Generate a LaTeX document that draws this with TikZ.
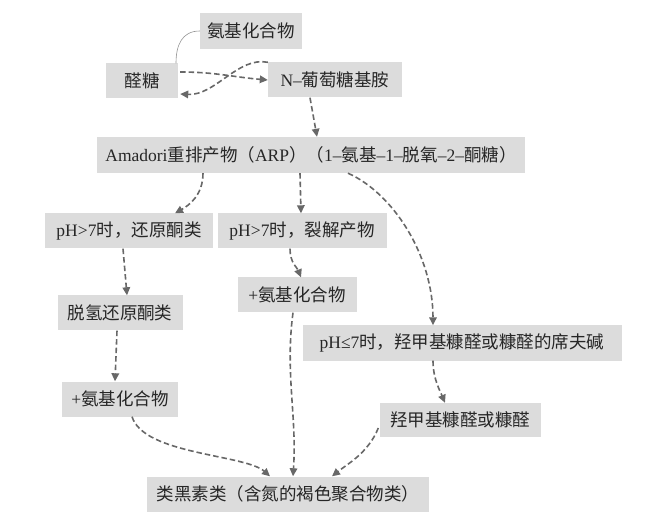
\documentclass[tikz,border=0pt]{standalone}
\usepackage{fontspec}
\setmainfont{Noto Sans CJK SC}
\newfontfamily\latinfont{Liberation Serif}
\newcommand{\latn}[1]{{\latinfont #1}}
\usetikzlibrary{arrows.meta,calc}
\definecolor{boxgray}{HTML}{DCDCDC}
\definecolor{linegray}{HTML}{686868}

\begin{document}
\begin{tikzpicture}[x=1pt, y=-1pt, >={Triangle[length=8pt,width=7.5pt]},
    box/.style={fill=boxgray, inner sep=0pt, text=black!85, font=\fontsize{17.5}{20}\selectfont},
    flow/.style={->, draw=linegray, line width=1.6pt, dash pattern=on 5.5pt off 3pt}]
    \fill[white] (0,0) rectangle (649,516);

    % 起始反应
    \node[box, minimum width=102pt, minimum height=36pt] (amine_top) at (251,31) {氨基化合物};
    \node[box, minimum width=72pt, minimum height=35pt] (aldose) at (142,81) {醛糖};
    \node[box, minimum width=134pt, minimum height=35pt] (glucosylamine) at (335,80) {\latn{N–}葡萄糖基胺};
    \node[box, minimum width=428pt, minimum height=36pt] (amadori) at (311,155)
        {\latn{Amadori}重排产物（\latn{ARP}）（\latn{1–}氨基\latn{–1–}脱氧\latn{–2–}酮糖）};

    % 分支产物
    \node[box, minimum width=168pt, minimum height=35pt] (reductone) at (129,231) {\latn{pH>7}时，还原酮类};
    \node[box, minimum width=169pt, minimum height=35pt] (fission) at (302,231) {\latn{pH>7}时，裂解产物};
    \node[box, minimum width=125pt, minimum height=35pt] (dehydro) at (120,313) {脱氢还原酮类};
    \node[box, minimum width=119pt, minimum height=35pt] (amine_mid) at (297,295) {\latn{+}氨基化合物};
    \node[box, minimum width=319pt, minimum height=35pt] (schiff) at (462,343) {\latn{pH≤7}时，羟甲基糠醛或糠醛的席夫碱};
    \node[box, minimum width=116pt, minimum height=35pt] (amine_low) at (120,399) {\latn{+}氨基化合物};
    \node[box, minimum width=161pt, minimum height=34pt] (hmf) at (460,420) {羟甲基糠醛或糠醛};
    \node[box, minimum width=282pt, minimum height=35pt] (melanoidin) at (288,494) {类黑素类（含氮的褐色聚合物类）};

    % 醛糖与氨基化合物
    \draw[linegray!70, line width=0.6pt] (amine_top.west) .. controls +(-18,0) and +(0,-18) .. ($(aldose.north)+(34,0)$);
    \draw[flow] ($(aldose.east)+(2,-9)$) .. controls +(35,0) and +(-35,-3) .. (glucosylamine.west);
    \draw[flow] (glucosylamine.north west) .. controls +(-30,-6) and +(35,2) .. ($(aldose.east)+(2,13)$);
    \draw[flow] ($(glucosylamine.south)+(-25,0)$) -- ($(amadori.north)+(6,0)$);

    % Amadori分支
    \draw[flow] ($(amadori.south)+(-108,0)$) .. controls +(0,22) and +(14,-8) .. ($(reductone.north)+(46,0)$);
    \draw[flow] ($(amadori.south)+(-11,0)$) -- ($(fission.north)+(-1,0)$);
    \draw[flow] ($(amadori.south)+(37,0)$) .. controls +(45,20) and +(0,-70) .. ($(schiff.north)+(-29,0)$);

    % 中间步骤
    \draw[flow] ($(reductone.south)+(-6,0)$) -- ($(dehydro.north)+(7,0)$);
    \draw[flow] ($(dehydro.south)+(-3,0)$) -- ($(amine_low.north)+(-5,0)$);
    \draw[flow] ($(fission.south)+(-12,0)$) .. controls +(0,14) and +(-4,-10) .. ($(amine_mid.north)+(4,0)$);
    \draw[flow] ($(schiff.south)+(-29,0)$) .. controls +(0,18) and +(-5,-12) .. ($(hmf.north)+(-15,0)$);

    % 汇入类黑素
    \draw[flow] ($(amine_low.south)+(12,0)$) .. controls +(12,38) and +(-25,-22) .. ($(melanoidin.north)+(-18,0)$);
    \draw[flow] ($(amine_mid.south)+(-4,0)$) .. controls +(-8,60) and +(4,-60) .. ($(melanoidin.north)+(5,0)$);
    \draw[flow] ($(hmf.west)+(-1,8)$) .. controls +(-10,25) and +(15,-12) .. ($(melanoidin.north)+(44,0)$);
\end{tikzpicture}
\end{document}
